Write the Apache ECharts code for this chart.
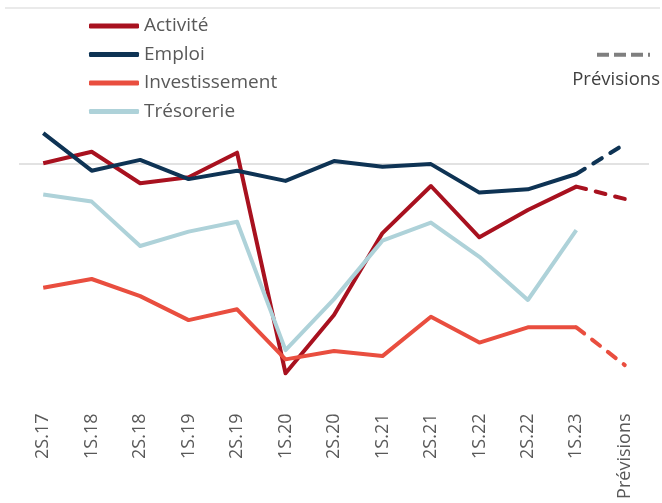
<!DOCTYPE html>
<html>
<head>
<meta charset="utf-8">
<script src="https://cdn.jsdelivr.net/npm/echarts@6/dist/echarts.min.js"></script>
<style>
  html, body { margin: 0; padding: 0; background: #fff; }
  #chart { width: 662px; height: 503px; }
</style>
</head>
<body>
<div id="chart"></div>
<script>
// categories (semesters + forecast)
const categories = ['2S.17', '1S.18', '2S.18', '1S.19', '2S.19', '1S.20', '2S.20',
  '1S.21', '2S.21', '1S.22', '2S.22', '1S.23', 'Prévisions'];

// balances (last value = forecast, null = none)
const activite = [0.1, 3.9, -6.6, -4.6, 3.6, -69.9, -50.5, -23.2, -7.5, -24.6, -15.5, -7.7, -11.8];
const emploi = [10.1, -2.4, 1.2, -5.2, -2.4, -5.8, 0.8, -1.1, -0.2, -9.7, -8.6, -3.5, 6.5];
const investissement = [-41.4, -38.5, -44.2, -52.2, -48.6, -65.3, -62.5, -64.2, -51.1, -59.7, -54.6, -54.6, -67.2];
const tresorerie = [-10.3, -12.7, -27.5, -22.7, -19.4, -62.2, -45.2, -25.7, -19.7, -31.1, -45.5, -22.2, null];

const seriesDefs = [
  { name: 'Activité', data: activite, color: '#a8111f' },
  { name: 'Emploi', data: emploi, color: '#0e3354' },
  { name: 'Investissement', data: investissement, color: '#e94e3f' },
  { name: 'Trésorerie', data: tresorerie, color: '#aed2d9' }
];

const last = categories.length - 1;

// solid part: everything except the forecast point
const solidPart = (arr) => arr.map((v, i) => (i < last ? v : null));
// dashed part: last observed point -> forecast
const dashedPart = (arr) => arr.map((v, i) => (i >= last - 1 ? v : null));

const series = [];
seriesDefs.forEach((s, idx) => {
  series.push({
    name: s.name,
    type: 'line',
    data: solidPart(s.data),
    symbol: 'none',
    color: s.color,
    lineStyle: { width: 4, color: s.color, join: 'round' },
    markLine: idx === 0 ? {
      silent: true,
      symbol: 'none',
      z: 1,
      label: { show: false },
      lineStyle: { color: '#d9d9d9', width: 1.5, type: 'solid' },
      data: [{ yAxis: 0 }]
    } : undefined
  });
  if (s.data[last] != null) {
    series.push({
      name: s.name,
      type: 'line',
      data: dashedPart(s.data),
      symbol: 'none',
      color: s.color,
      lineStyle: { width: 4, color: s.color, type: [10, 10], cap: 'round' }
    });
  }
});

// dummy series only for the "Prévisions" legend key
series.push({
  name: 'Prévisions',
  type: 'line',
  data: [],
  symbol: 'none',
  color: '#7f7f7f'
});

const chart = echarts.init(document.getElementById('chart'), null, { renderer: 'canvas' });

chart.setOption({
  animation: false,
  backgroundColor: '#fff',
  textStyle: { fontFamily: 'Open Sans' },
  grid: { left: 19, right: 13, top: 13.5, bottom: 99.5 },
  title: {
    text: 'Prévisions',
    right: 2,
    top: 70,
    padding: 0,
    textStyle: { fontFamily: 'Open Sans', fontSize: 18.5, fontWeight: 'normal', color: '#404040' }
  },
  legend: [
    {
      data: seriesDefs.map((s) => s.name),
      orient: 'vertical',
      left: 89,
      top: 14.5,
      padding: 0,
      icon: 'roundRect',
      itemWidth: 50,
      itemHeight: 5,
      itemGap: 5.5,
      textStyle: { fontFamily: 'Open Sans', fontSize: 19, color: '#595959', lineHeight: 23 }
    },
    {
      data: [{
        name: 'Prévisions',
        icon: 'path://M0,0h12v4h-12z M17,0h12v4h-12z M34,0h12v4h-12z M51,0h2v4h-2z'
      }],
      right: 12,
      top: 52.5,
      padding: 0,
      itemWidth: 53,
      itemHeight: 4.5,
      formatter: () => ''
    }
  ],
  xAxis: {
    type: 'category',
    data: categories,
    boundaryGap: true,
    axisLine: { show: false },
    axisTick: { show: false },
    axisLabel: {
      rotate: 90,
      margin: 10,
      interval: 0,
      fontFamily: 'Open Sans',
      fontSize: 18,
      color: '#595959'
    }
  },
  yAxis: {
    type: 'value',
    min: -80,
    max: 50,
    show: false,
    splitLine: { show: false }
  },
  graphic: [
    {
      type: 'line',
      shape: { x1: 5, y1: 8, x2: 660, y2: 8 },
      style: { stroke: '#e3e3e3', lineWidth: 1.5 },
      silent: true
    }
  ],
  series: series
});
</script>
</body>
</html>
